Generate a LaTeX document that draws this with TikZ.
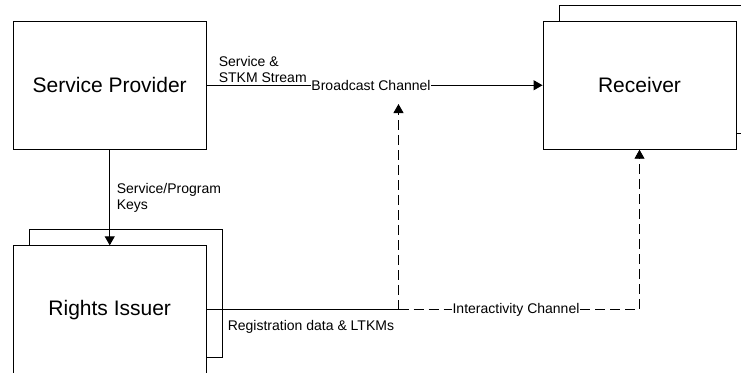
\documentclass[tikz,border=0pt]{standalone}
\usepackage{fontspec}
\setmainfont{Liberation Sans}
\usetikzlibrary{arrows.meta}
\begin{document}
\begin{tikzpicture}[x=1pt,y=-1pt,
  box/.style={draw,line width=0.9pt,fill=white,minimum width=193pt,minimum height=128pt,inner sep=0pt,font=\fontsize{21}{25}\selectfont},
  backbox/.style={draw,line width=0.9pt,fill=white,minimum width=193pt,minimum height=128pt,inner sep=0pt},
  lbl/.style={font=\fontsize{14}{16}\selectfont,inner sep=0.6pt,align=left},
  ln/.style={line width=0.9pt},
  arr/.style={line width=0.9pt,-{Triangle[length=9pt,width=10pt]}},
  dsh/.style={line width=0.9pt,dash pattern=on 10pt off 5pt}]
\clip (0,0) rectangle (741,372);
\fill[white] (0,0) rectangle (741,372);
% boxes
\node[box] (sp) at (109.75,85.25) {Service Provider};
\node[backbox] (rib) at (125.75,293.25) {};
\node[box] (ri) at (109.75,309.75) {Rights Issuer};
\node[backbox] (recb) at (655.5,69) {};
\node[box] (rec) at (639.5,85.25) {Receiver};
% broadcast channel
\node[lbl,fill=white] (bc) at (371,85.25) {Broadcast Channel};
\node[lbl,anchor=south west] (ss) at (218,83) {Service \&\\STKM Stream};
\draw[ln] (sp.east) -- (bc.west);
\draw[arr] (bc.east) -- (rec.west);
% keys
\draw[arr] (sp.south) -- (ri.north);
\node[lbl,anchor=west] (keys) at (116,198) {Service/Program\\Keys};
% interactivity
\coordinate (j1) at (398.5,309.5);
\coordinate (j2) at (rec.south |- j1);
\coordinate (bt) at (398.5,104);
\node[lbl,fill=white] (ic) at (516,309.5) {Interactivity Channel};
\node[lbl,anchor=north west] (reg) at (227,320) {Registration data \& LTKMs};
\draw[ln] (ri.east |- j1) -- (j1);
\draw[dsh,-{Triangle[length=9pt,width=10pt]}] (j1) -- (bt);
\draw[dsh] (j1) -- (ic.west);
\draw[dsh,-{Triangle[length=9pt,width=10pt]}] (ic.east) -- (j2) -- (rec.south);
\end{tikzpicture}
\end{document}
